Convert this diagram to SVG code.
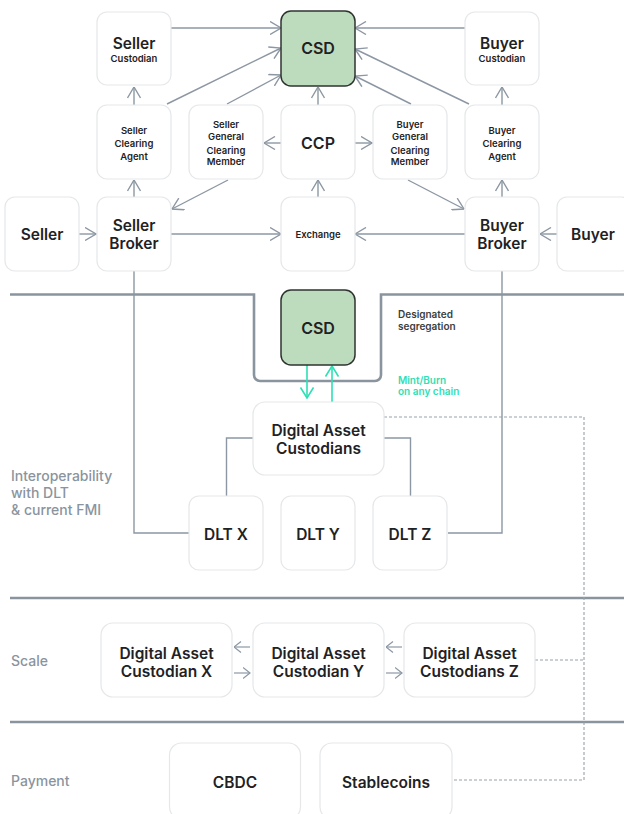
<svg xmlns="http://www.w3.org/2000/svg" width="624" height="814" viewBox="0 0 624 814">
  <defs>
    <style>
      .box { fill: #ffffff; stroke: #e5e7e9; stroke-width: 1.2; }
      .csd { fill: #bcdcbd; stroke: #2f3330; stroke-width: 1.5; }
      .t { font-family: Inter, "Noto Sans", sans-serif; fill: #1f2224; text-anchor: middle; font-weight: 600; }
      .big { font-size: 15.5px; }
      .sm { font-size: 9.5px; }
      .lbl { font-family: Inter, "Noto Sans", sans-serif; fill: #8a949e; font-size: 14px; font-weight: 500; }
      .note { font-family: Inter, "Noto Sans", sans-serif; fill: #3b3e40; font-size: 10px; font-weight: 600; }
      .mint { font-family: Inter, "Noto Sans", sans-serif; fill: #2ee0b6; font-size: 10px; font-weight: 600; }
      .c { fill: none; stroke: #8c97a3; stroke-width: 1.4; }
      .ca { fill: none; stroke: #8c97a3; stroke-width: 1.4; marker-end: url(#ah); }
      .cs { fill: none; stroke: #8c97a3; stroke-width: 1.2; marker-end: url(#ahs); }
      .teal { fill: none; stroke: #2ee0b6; stroke-width: 1.6; marker-end: url(#aht); }
      .dash { fill: none; stroke: #98a1aa; stroke-width: 1.1; stroke-dasharray: 3 2; }
      .sep { fill: none; stroke: #8a949e; stroke-width: 2.6; }
    </style>
    <marker id="ah" viewBox="0 0 12 14" refX="11.5" refY="7" markerWidth="12" markerHeight="14" orient="auto" markerUnits="userSpaceOnUse">
      <path d="M0.5,0.5 L11.5,7 L0.5,13.5" fill="none" stroke="#8c97a3" stroke-width="1.4"/>
    </marker>
    <marker id="ahs" viewBox="0 0 8 12" refX="7.5" refY="6" markerWidth="8" markerHeight="12" orient="auto" markerUnits="userSpaceOnUse">
      <path d="M0.5,0.5 L7.5,6 L0.5,11.5" fill="none" stroke="#8c97a3" stroke-width="1.2"/>
    </marker>
    <marker id="aht" viewBox="0 0 12 14" refX="11" refY="7" markerWidth="12" markerHeight="14" orient="auto" markerUnits="userSpaceOnUse">
      <path d="M0.5,0.5 L11,7 L0.5,13.5" fill="none" stroke="#2ee0b6" stroke-width="1.6"/>
    </marker>
  </defs>

  <rect width="624" height="814" fill="#ffffff"/>

  <!-- section separators -->
  <path class="sep" d="M10,294.5 H254 V375 A6,6 0 0 0 260,381 H375 A6,6 0 0 0 381,375 V294.5 H624"/>
  <path class="sep" d="M10,598 H624"/>
  <path class="sep" d="M10,722 H624"/>

  <!-- section labels -->
  <g id="section-labels">
    <text class="lbl" x="11" y="481">Interoperability</text>
    <text class="lbl" x="11" y="498">with DLT</text>
    <text class="lbl" x="11" y="515">&amp; current FMI</text>
    <text class="lbl" x="11" y="666">Scale</text>
    <text class="lbl" x="11" y="786">Payment</text>
  </g>

  <!-- connectors -->
  <g id="connectors">
    <!-- custodians to CSD -->
    <line class="ca" x1="171" y1="28" x2="281" y2="28"/>
    <line class="ca" x1="465" y1="28" x2="355" y2="28"/>
    <!-- clearing agents / members to CSD -->
    <line class="ca" x1="167" y1="104" x2="281" y2="48"/>
    <line class="ca" x1="227" y1="104" x2="281" y2="75"/>
    <line class="ca" x1="469" y1="104" x2="355" y2="49"/>
    <line class="ca" x1="411" y1="104" x2="355" y2="76"/>
    <!-- CCP to CSD -->
    <line class="ca" x1="318" y1="105" x2="318" y2="87"/>
    <!-- clearing agents to custodians -->
    <line class="ca" x1="134" y1="105" x2="134" y2="87"/>
    <line class="ca" x1="502" y1="105" x2="502" y2="87"/>
    <!-- CCP to general clearing members -->
    <line class="ca" x1="281" y1="143" x2="264" y2="143"/>
    <line class="ca" x1="355" y1="143" x2="372" y2="143"/>
    <!-- general clearing members to brokers -->
    <line class="ca" x1="228" y1="180" x2="172" y2="209"/>
    <line class="ca" x1="408" y1="180" x2="464" y2="209"/>
    <!-- brokers to clearing agents -->
    <line class="ca" x1="134" y1="197" x2="134" y2="180"/>
    <line class="ca" x1="502" y1="197" x2="502" y2="180"/>
    <!-- exchange to CCP -->
    <line class="ca" x1="318" y1="197" x2="318" y2="180"/>
    <!-- bottom row -->
    <line class="ca" x1="79" y1="234" x2="96" y2="234"/>
    <line class="ca" x1="171" y1="234" x2="281" y2="234"/>
    <line class="ca" x1="465" y1="234" x2="355" y2="234"/>
    <line class="ca" x1="557" y1="234" x2="540" y2="234"/>

    <!-- brokers down to DLT nodes -->
    <path class="c" d="M134,271 V533 H189"/>
    <path class="c" d="M502,271 V533 H448"/>
    <!-- digital asset custodians to DLT X / Z -->
    <path class="c" d="M253,438 H226.5 V496"/>
    <path class="c" d="M384,438 H410.5 V496"/>

    <!-- mint / burn -->
    <line class="teal" x1="307" y1="365" x2="307" y2="398"/>
    <line class="teal" x1="332" y1="402" x2="332" y2="366"/>

    <!-- scale row -->
    <line class="cs" x1="250" y1="647" x2="234" y2="647"/>
    <line class="cs" x1="234" y1="673" x2="250" y2="673"/>
    <line class="cs" x1="402" y1="647" x2="386" y2="647"/>
    <line class="cs" x1="386" y1="673" x2="402" y2="673"/>

    <!-- dashed links -->
    <path class="dash" d="M384,417 H584 V780 H452"/>
    <path class="dash" d="M535,660 H584"/>
  </g>

  <!-- top layer nodes -->
  <g id="seller-custodian">
    <rect class="box" x="97" y="12" width="74" height="73" rx="10"/>
    <text class="t big" x="134" y="49">Seller</text>
    <text class="t sm" x="134" y="61.5">Custodian</text>
  </g>
  <g id="csd-top">
    <rect class="csd" x="281" y="11" width="74" height="75" rx="10"/>
    <text class="t" x="318" y="54" font-size="16">CSD</text>
  </g>
  <g id="buyer-custodian">
    <rect class="box" x="465" y="12" width="74" height="73" rx="10"/>
    <text class="t big" x="502" y="49">Buyer</text>
    <text class="t sm" x="502" y="61.5">Custodian</text>
  </g>

  <g id="seller-clearing-agent">
    <rect class="box" x="97" y="105" width="74" height="74" rx="10"/>
    <text class="t sm" x="134" y="133.5">Seller</text>
    <text class="t sm" x="134" y="146.5">Clearing</text>
    <text class="t sm" x="134" y="159.5">Agent</text>
  </g>
  <g id="seller-gcm">
    <rect class="box" x="189" y="105" width="74" height="74" rx="10"/>
    <text class="t sm" x="226" y="127.5">Seller</text>
    <text class="t sm" x="226" y="140">General</text>
    <text class="t sm" x="226" y="153.5">Clearing</text>
    <text class="t sm" x="226" y="165">Member</text>
  </g>
  <g id="ccp">
    <rect class="box" x="281" y="105" width="74" height="74" rx="10"/>
    <text class="t" x="318" y="149" font-size="16">CCP</text>
  </g>
  <g id="buyer-gcm">
    <rect class="box" x="373" y="105" width="74" height="74" rx="10"/>
    <text class="t sm" x="410" y="127.5">Buyer</text>
    <text class="t sm" x="410" y="140">General</text>
    <text class="t sm" x="410" y="153.5">Clearing</text>
    <text class="t sm" x="410" y="165">Member</text>
  </g>
  <g id="buyer-clearing-agent">
    <rect class="box" x="465" y="105" width="74" height="74" rx="10"/>
    <text class="t sm" x="502" y="133.5">Buyer</text>
    <text class="t sm" x="502" y="146.5">Clearing</text>
    <text class="t sm" x="502" y="159.5">Agent</text>
  </g>

  <g id="seller">
    <rect class="box" x="5" y="197" width="74" height="74" rx="10"/>
    <text class="t big" x="42" y="239.5">Seller</text>
  </g>
  <g id="seller-broker">
    <rect class="box" x="97" y="197" width="74" height="74" rx="10"/>
    <text class="t big" x="134" y="231">Seller</text>
    <text class="t big" x="134" y="248.5">Broker</text>
  </g>
  <g id="exchange">
    <rect class="box" x="281" y="197" width="74" height="74" rx="10"/>
    <text class="t sm" x="318" y="237.5">Exchange</text>
  </g>
  <g id="buyer-broker">
    <rect class="box" x="465" y="197" width="74" height="74" rx="10"/>
    <text class="t big" x="502" y="231">Buyer</text>
    <text class="t big" x="502" y="248.5">Broker</text>
  </g>
  <g id="buyer">
    <rect class="box" x="557" y="197" width="74" height="74" rx="10"/>
    <text class="t big" x="593" y="239.5">Buyer</text>
  </g>

  <!-- interoperability layer -->
  <g id="csd-segregated">
    <rect class="csd" x="281" y="290" width="74" height="75" rx="10"/>
    <text class="t" x="318" y="334" font-size="16">CSD</text>
  </g>
  <g id="segregation-note">
    <text class="note" x="398" y="318">Designated</text>
    <text class="note" x="398" y="329.5">segregation</text>
    <text class="mint" x="398" y="384">Mint/Burn</text>
    <text class="mint" x="398" y="395">on any chain</text>
  </g>
  <g id="digital-asset-custodians">
    <rect class="box" x="253" y="402" width="131" height="73" rx="12"/>
    <text class="t big" x="318.5" y="435.5">Digital Asset</text>
    <text class="t big" x="318.5" y="454">Custodians</text>
  </g>
  <g id="dlt-x">
    <rect class="box" x="189" y="496" width="74" height="74" rx="10"/>
    <text class="t big" x="226" y="539.5">DLT X</text>
  </g>
  <g id="dlt-y">
    <rect class="box" x="281" y="496" width="74" height="74" rx="10"/>
    <text class="t big" x="318" y="539.5">DLT Y</text>
  </g>
  <g id="dlt-z">
    <rect class="box" x="373" y="496" width="74" height="74" rx="10"/>
    <text class="t big" x="410" y="539.5">DLT Z</text>
  </g>

  <!-- scale layer -->
  <g id="dac-x">
    <rect class="box" x="101" y="623" width="131" height="74" rx="12"/>
    <text class="t big" x="166.5" y="658.5">Digital Asset</text>
    <text class="t big" x="166.5" y="676.5">Custodian X</text>
  </g>
  <g id="dac-y">
    <rect class="box" x="253" y="623" width="131" height="74" rx="12"/>
    <text class="t big" x="318.5" y="658.5">Digital Asset</text>
    <text class="t big" x="318.5" y="676.5">Custodian Y</text>
  </g>
  <g id="dac-z">
    <rect class="box" x="404" y="623" width="131" height="74" rx="12"/>
    <text class="t big" x="469.5" y="658.5">Digital Asset</text>
    <text class="t big" x="469.5" y="676.5">Custodians Z</text>
  </g>

  <!-- payment layer -->
  <g id="cbdc">
    <rect class="box" x="169.5" y="743" width="131" height="76" rx="12"/>
    <text class="t big" x="235" y="787.5">CBDC</text>
  </g>
  <g id="stablecoins">
    <rect class="box" x="320" y="743" width="132" height="76" rx="12"/>
    <text class="t big" x="386" y="787.5">Stablecoins</text>
  </g>
</svg>
